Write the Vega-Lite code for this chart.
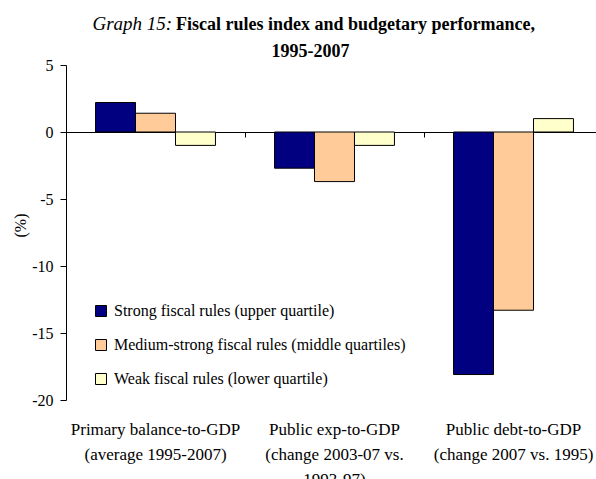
{
  "$schema": "https://vega.github.io/schema/vega-lite/v6.json",
  "autosize": {"type": "none"},
  "width": 537,
  "height": 335,
  "padding": {"left": 66, "top": 65, "right": -7, "bottom": 79},
  "background": "white",
  "config": {
    "font": "Liberation Serif",
    "view": {"stroke": null},
    "axis": {"labelFont": "Liberation Serif", "titleFont": "Liberation Serif", "labelColor": "black", "titleColor": "black", "domainColor": "black", "tickColor": "black"}
  },
  "title": {
    "text": "Fiscal rules index and budgetary performance,",
    "font": "Liberation Serif",
    "fontSize": 18,
    "fontWeight": "bold",
    "color": "black",
    "anchor": "start",
    "frame": "group",
    "dx": 110,
    "offset": -20
  },
  "data": {
    "values": [
      {"measure": "Primary balance-to-GDP", "group": "Strong fiscal rules (upper quartile)", "value": 2.2},
      {"measure": "Primary balance-to-GDP", "group": "Medium-strong fiscal rules (middle quartiles)", "value": 1.4},
      {"measure": "Primary balance-to-GDP", "group": "Weak fiscal rules (lower quartile)", "value": -1.0},
      {"measure": "Public exp-to-GDP", "group": "Strong fiscal rules (upper quartile)", "value": -2.7},
      {"measure": "Public exp-to-GDP", "group": "Medium-strong fiscal rules (middle quartiles)", "value": -3.7},
      {"measure": "Public exp-to-GDP", "group": "Weak fiscal rules (lower quartile)", "value": -1.0},
      {"measure": "Public debt-to-GDP", "group": "Strong fiscal rules (upper quartile)", "value": -18.1},
      {"measure": "Public debt-to-GDP", "group": "Medium-strong fiscal rules (middle quartiles)", "value": -13.3},
      {"measure": "Public debt-to-GDP", "group": "Weak fiscal rules (lower quartile)", "value": 1.0}
    ]
  },
  "resolve": {"axis": {"x": "independent"}, "scale": {"x": "independent"}},
  "layer": [
    {
      "mark": {"type": "bar", "stroke": "black", "strokeWidth": 1},
      "encoding": {
        "x": {
          "field": "measure", "type": "nominal", "sort": null,
          "scale": {"paddingInner": 0.33, "paddingOuter": 0.165},
          "axis": {
            "orient": "bottom", "title": null, "domain": false, "ticks": false, "labelAngle": 0,
            "labelFontSize": 17, "labelPadding": 21, "labelLineHeight": 25, "labelBaseline": "top",
            "labelExpr": "datum.label == 'Primary balance-to-GDP' ? ['Primary balance-to-GDP','(average 1995-2007)'] : datum.label == 'Public exp-to-GDP' ? ['Public exp-to-GDP','(change 2003-07 vs.','1993-97)'] : ['Public debt-to-GDP','(change 2007 vs. 1995)']"
          }
        },
        "xOffset": {"field": "group", "type": "nominal", "sort": ["Strong fiscal rules (upper quartile)", "Medium-strong fiscal rules (middle quartiles)", "Weak fiscal rules (lower quartile)"], "scale": {"paddingInner": 0, "paddingOuter": 0}},
        "y": {
          "field": "value", "type": "quantitative",
          "scale": {"domain": [-20, 5], "nice": false},
          "axis": {"values": [-20, -15, -10, -5, 0, 5], "labelExpr": "toString(datum.value)", "grid": false, "title": "(%)", "titleFontSize": 16, "titleFontWeight": "normal", "labelFontSize": 16, "tickSize": 6, "labelPadding": 7, "titleX": -38, "titleY": 160, "titleAlign": "center", "titleAngle": -90}
        },
        "color": {
          "field": "group", "type": "nominal",
          "scale": {"domain": ["Strong fiscal rules (upper quartile)", "Medium-strong fiscal rules (middle quartiles)", "Weak fiscal rules (lower quartile)"], "range": ["#000080", "#FFCC99", "#FFFFCC"]},
          "legend": {"orient": "none", "legendX": 27, "legendY": 238, "title": null, "symbolType": "square", "symbolSize": 121, "symbolStrokeColor": "black", "symbolStrokeWidth": 1, "symbolOpacity": 1, "labelFont": "Liberation Serif", "labelFontSize": 16, "labelColor": "black", "rowPadding": 18, "labelOffset": 5, "labelLimit": 400}
        }
      }
    },
    {
      "mark": {"type": "rule", "opacity": 0},
      "encoding": {
        "x": {"field": "measure", "type": "nominal", "sort": null, "scale": {"paddingInner": 0, "paddingOuter": 0}, "axis": {"orient": "bottom", "offset": -268, "title": "1995-2007", "titleFontSize": 18, "titleFontWeight": "bold", "titleAlign": "center", "titleBaseline": "alphabetic", "titleX": 244, "titleY": -76, "labels": false, "domain": true, "ticks": true, "tickBand": "extent", "tickSize": 5, "domainWidth": 1}},
        "y": {"datum": 0},
        "y2": {"datum": 0}
      }
    },
    {
      "mark": {"type": "rule", "opacity": 0},
      "encoding": {
        "x": {"field": "measure", "type": "nominal", "sort": null, "axis": {"orient": "top", "title": "Graph 15:", "labels": false, "domain": false, "ticks": false, "titleFontSize": 19, "titleFontStyle": "italic", "titleFontWeight": "normal", "titleAlign": "left", "titleBaseline": "alphabetic", "titleX": 26, "titleY": -36}},
        "y": {"datum": 0},
        "y2": {"datum": 0}
      }
    }
  ]
}
